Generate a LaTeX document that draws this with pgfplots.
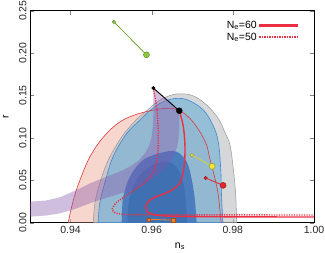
\documentclass[border=0pt]{standalone}
\usepackage{fontspec}
\setmainfont{Liberation Sans}
\usepackage{pgfplots}
\pgfplotsset{compat=1.18}
\definecolor{salmon}{RGB}{240,175,155}
\definecolor{redline}{RGB}{225,55,60}
\definecolor{greyfill}{RGB}{185,188,192}
\definecolor{greyline}{RGB}{150,152,156}
\definecolor{lblue}{RGB}{115,178,215}
\definecolor{bline}{RGB}{65,135,210}
\definecolor{dblue}{RGB}{50,105,185}
\definecolor{purp}{RGB}{132,85,172}
\definecolor{trackred}{RGB}{236,48,68}
\definecolor{gfill}{RGB}{140,198,63}
\definecolor{gedge}{RGB}{85,135,35}
\definecolor{yfill}{RGB}{240,232,50}
\definecolor{yedge}{RGB}{150,145,20}
\definecolor{rfill}{RGB}{232,36,40}
\definecolor{redge}{RGB}{150,15,15}
\definecolor{ofill}{RGB}{240,128,45}
\definecolor{oedge}{RGB}{170,80,20}
\begin{document}
\begin{tikzpicture}
\path[use as bounding box] (-30pt,-30.3pt) rectangle (295pt,222.7pt);
\begin{axis}[at={(0,0)}, anchor=south west, scale only axis,
  width=284pt, height=212pt,
  xmin=0.93, xmax=1.0, ymin=0, ymax=0.25,
  xtick={0.94,0.96,0.98,1.00},
  ytick={0,0.05,0.1,0.15,0.2,0.25},
  scaled ticks=false,
  /pgf/number format/assume math mode=true,
  /pgf/number format/fixed,
  /pgf/number format/fixed zerofill,
  /pgf/number format/precision=2,
  yticklabel style={rotate=90, anchor=south},
  tick label style={font=\fontsize{10.5}{12}\selectfont, text=black!85},
  tick align=inside, major tick length=4pt,
  axis line style={line width=0.6pt},
  xlabel={n\textsubscript{s}}, ylabel={r},
  label style={font=\fontsize{10.5}{12}\selectfont},
  xlabel style={at={(rel axis cs:0.528,-0.111)}, anchor=center},
  ylabel style={at={(rel axis cs:-0.085,0.5)}, anchor=center},
  legend plot pos=right,
  legend cell align=right,
  legend style={at={(rel axis cs:0.945,0.962)}, anchor=north east, draw=none, fill=none,
    font=\fontsize{10.5}{12}\selectfont, inner sep=0pt, row sep=-1pt},
]
% red 95% region (fill)
\addplot[draw=none, fill=salmon, fill opacity=0.5, smooth, tension=0.6, forget plot] coordinates {
(0.9394,0) (0.9407,0.027) (0.9423,0.050) (0.9448,0.078) (0.9481,0.101) (0.9522,0.119)
(0.9571,0.129) (0.9637,0.135) (0.9668,0.132) (0.9694,0.123) (0.9719,0.107) (0.9735,0.092)
(0.9743,0.076) (0.9756,0.052) (0.9764,0.033) (0.9770,0.005) (0.9771,0)} -- cycle;
% grey 95%
\addplot[draw=greyline, line width=0.5pt, fill=greyfill, fill opacity=0.6, smooth, tension=0.6, forget plot] coordinates {
(0.9456,0) (0.9460,0.023) (0.9472,0.0465) (0.9493,0.074) (0.9526,0.101) (0.9559,0.120)
(0.9590,0.133) (0.9615,0.143) (0.9645,0.150) (0.9675,0.152) (0.9705,0.149) (0.9735,0.139)
(0.9764,0.123) (0.9780,0.107) (0.9793,0.0916) (0.9801,0.064) (0.9807,0.033) (0.9809,0.005) (0.9809,0)} -- cycle;
% blue 95%
\addplot[draw=bline, line width=0.6pt, fill=lblue, fill opacity=0.65, smooth, tension=0.6, forget plot] coordinates {
(0.9468,0) (0.9472,0.023) (0.9485,0.048) (0.9505,0.078) (0.9538,0.105) (0.9571,0.121)
(0.9600,0.134) (0.9630,0.143) (0.9660,0.1465) (0.9690,0.1445) (0.9727,0.133) (0.9751,0.115)
(0.9764,0.0955) (0.9770,0.064) (0.9772,0.033) (0.9775,0.005) (0.9775,0)} -- cycle;
% blue 68%
\addplot[draw=none, fill=dblue, fill opacity=0.75, smooth, tension=0.6, forget plot] coordinates {
(0.9526,0) (0.9527,0.015) (0.9530,0.031) (0.9546,0.054) (0.9579,0.074) (0.9628,0.083)
(0.9661,0.0837) (0.9686,0.072) (0.9698,0.0523) (0.9706,0.0288) (0.9710,0.005) (0.9711,0)} -- cycle;
% inner 68%
\addplot[draw=none, fill=dblue!80!black, fill opacity=0.3, smooth, tension=0.6, forget plot] coordinates {
(0.9540,0) (0.9545,0.028) (0.9565,0.052) (0.9598,0.067) (0.9638,0.072) (0.9665,0.063)
(0.9680,0.042) (0.9686,0.012) (0.9687,0)} -- cycle;
% red 95% outline on top
\addplot[draw=redline, line width=0.6pt, smooth, tension=0.6, forget plot] coordinates {
(0.9394,0) (0.9407,0.027) (0.9423,0.050) (0.9448,0.078) (0.9481,0.101) (0.9522,0.119)
(0.9571,0.129) (0.9637,0.135) (0.9668,0.132) (0.9694,0.123) (0.9719,0.107) (0.9735,0.092)
(0.9743,0.076) (0.9756,0.052) (0.9764,0.033) (0.9770,0.005) (0.9771,0)};
% purple band
\addplot[draw=none, fill=purp, fill opacity=0.38, forget plot] coordinates {
(0.9300,0.0248) (0.9340,0.0262) (0.9374,0.0300) (0.9410,0.0375) (0.9448,0.0464) (0.9489,0.0543)
(0.9520,0.0600) (0.9546,0.0660) (0.9568,0.0735) (0.9583,0.0818) (0.9594,0.0910) (0.9600,0.1014)
(0.9603,0.1150) (0.9604,0.1290) (0.9604,0.1588) (0.9668,0.1320) (0.9668,0.1200) (0.9668,0.1093)
(0.9666,0.0990) (0.9663,0.0896) (0.9657,0.0815) (0.9649,0.0740) (0.9636,0.0660) (0.9620,0.0583)
(0.9597,0.0500) (0.9571,0.0425) (0.9535,0.0360) (0.9497,0.0307) (0.9448,0.0229) (0.9410,0.0160)
(0.9374,0.0110) (0.9340,0.0085) (0.9300,0.0071)} -- cycle;
% legend
\addlegendimage{legend image code/.code={\fill[trackred] (0pt,-0.7pt) rectangle (38pt,0.7pt);}}
\addlegendentry{N\textsubscript{e}=60}
\addlegendimage{legend image code/.code={\draw[trackred, line width=1.4pt, dash pattern=on 1.2pt off 1.3pt] (0pt,0pt) -- (38pt,0pt);}}
\addlegendentry{N\textsubscript{e}=50}
% model tracks
\addplot[trackred, line width=1.4pt, smooth, tension=0.5, forget plot] coordinates {
(0.9668,0.132) (0.9678,0.1132) (0.9682,0.0896) (0.9680,0.066) (0.9669,0.0465) (0.9640,0.036)
(0.9603,0.029) (0.9586,0.021) (0.9589,0.013) (0.9612,0.0088) (0.9665,0.0074) (0.9800,0.0069) (1.0,0.0067)};
\addplot[trackred, line width=1.4pt, dash pattern=on 1.2pt off 1.3pt, smooth, tension=0.5, forget plot] coordinates {
(0.9604,0.1588) (0.9612,0.1368) (0.9616,0.1093) (0.9615,0.0818) (0.9606,0.062) (0.9580,0.046)
(0.9540,0.033) (0.9511,0.0229) (0.9503,0.0145) (0.9522,0.0102) (0.9580,0.0094) (0.9700,0.0092) (1.0,0.0091)};
% points: green
\addplot[gfill!85!black, line width=0.8pt, forget plot] coordinates {(0.9507,0.2367) (0.9587,0.198)};
\addplot[only marks, mark=*, mark size=1.7pt, mark options={fill=gfill, draw=gedge, line width=0.4pt}, forget plot] coordinates {(0.9507,0.2367)};
\addplot[only marks, mark=*, mark size=3.0pt, mark options={fill=gfill, draw=gedge, line width=0.4pt}, forget plot] coordinates {(0.9587,0.198)};
% black
\addplot[black, line width=0.9pt, forget plot] coordinates {(0.9604,0.1588) (0.9668,0.132)};
\addplot[only marks, mark=*, mark size=1.7pt, mark options={fill=black, draw=black}, forget plot] coordinates {(0.9604,0.1588)};
\addplot[only marks, mark=*, mark size=3.0pt, mark options={fill=black, draw=black}, forget plot] coordinates {(0.9668,0.132)};
% yellow
\addplot[yfill!90!black, line width=0.8pt, forget plot] coordinates {(0.9699,0.0798) (0.9749,0.0665)};
\addplot[only marks, mark=*, mark size=1.7pt, mark options={fill=yfill, draw=yedge, line width=0.4pt}, forget plot] coordinates {(0.9699,0.0798)};
\addplot[only marks, mark=*, mark size=3.0pt, mark options={fill=yfill, draw=yedge, line width=0.4pt}, forget plot] coordinates {(0.9749,0.0665)};
% red
\addplot[rfill, line width=0.8pt, forget plot] coordinates {(0.9733,0.0527) (0.9776,0.044)};
\addplot[only marks, mark=*, mark size=1.7pt, mark options={fill=rfill, draw=redge, line width=0.4pt}, forget plot] coordinates {(0.9733,0.0527)};
\addplot[only marks, mark=*, mark size=3.0pt, mark options={fill=rfill, draw=redge, line width=0.4pt}, forget plot] coordinates {(0.9776,0.044)};
% orange
\addplot[ofill, line width=0.8pt, forget plot] coordinates {(0.9593,0.0040) (0.9653,0.0030)};
\addplot[only marks, mark=square*, mark size=1.5pt, mark options={fill=ofill, draw=oedge, line width=0.4pt}, forget plot] coordinates {(0.9593,0.0040)};
\addplot[only marks, mark=square*, mark size=2.4pt, mark options={fill=ofill, draw=oedge, line width=0.4pt}, forget plot] coordinates {(0.9653,0.0030)};
\end{axis}
\end{tikzpicture}
\end{document}
